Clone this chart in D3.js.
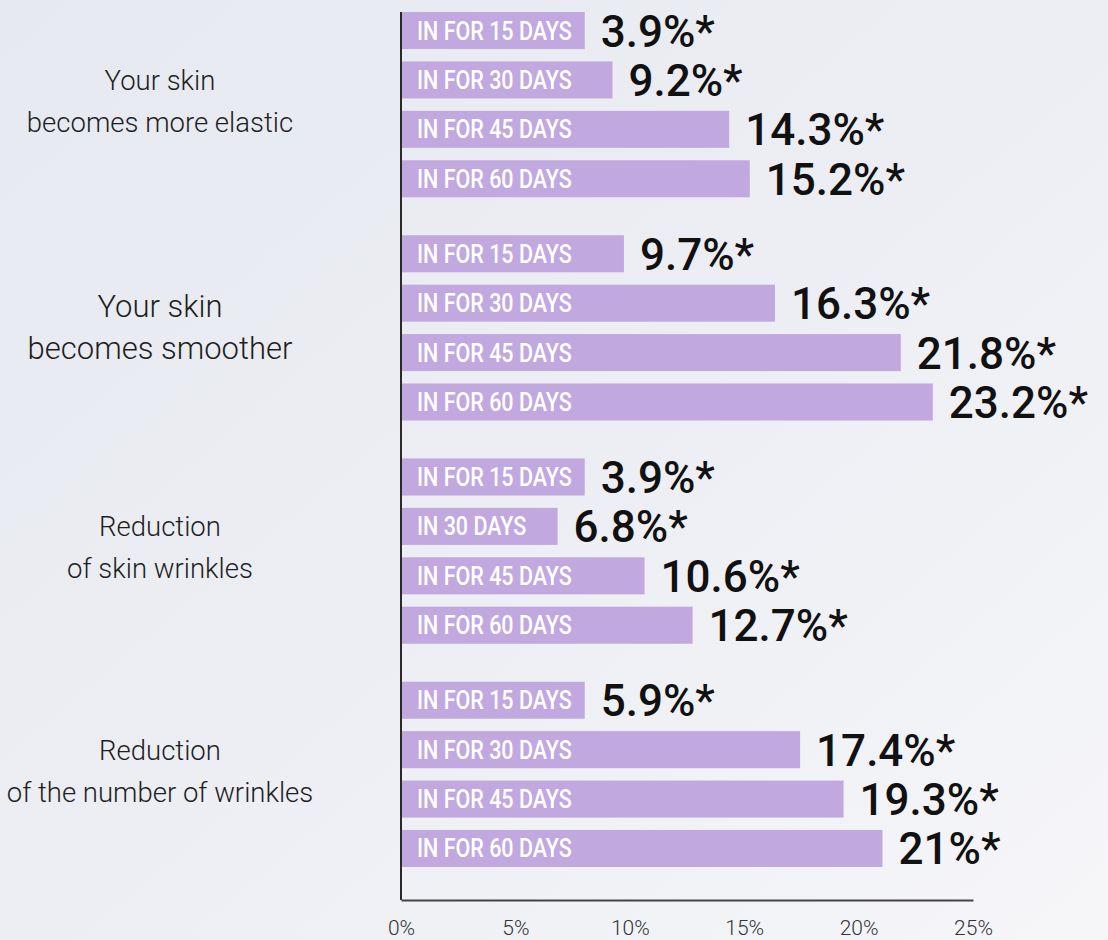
<!DOCTYPE html>
<html>
<head>
<meta charset="utf-8">
<script src="https://cdn.jsdelivr.net/npm/d3@7"></script>
<style>
  html, body { margin: 0; padding: 0; }
  body { width: 1108px; height: 940px; overflow: hidden; }
</style>
</head>
<body>
<svg id="chart" width="1108" height="940"></svg>
<script>
// ---- data ----
const groups = ["elastic", "smoother", "wrinkles", "number"];
const groupLabels = [
  ["Your skin", "becomes more elastic"],
  ["Your skin", "becomes smoother"],
  ["Reduction", "of skin wrinkles"],
  ["Reduction", "of the number of wrinkles"]
];
const barLabelsElastic  = ["IN FOR 15 DAYS", "IN FOR 30 DAYS", "IN FOR 45 DAYS", "IN FOR 60 DAYS"];
const barLabelsSmoother = ["IN FOR 15 DAYS", "IN FOR 30 DAYS", "IN FOR 45 DAYS", "IN FOR 60 DAYS"];
const barLabelsWrinkles = ["IN FOR 15 DAYS", "IN 30 DAYS", "IN FOR 45 DAYS", "IN FOR 60 DAYS"];
const barLabelsNumber   = ["IN FOR 15 DAYS", "IN FOR 30 DAYS", "IN FOR 45 DAYS", "IN FOR 60 DAYS"];
const valuesElastic  = [3.9, 9.2, 14.3, 15.2];
const valuesSmoother = [9.7, 16.3, 21.8, 23.2];
const valuesWrinkles = [3.9, 6.8, 10.6, 12.7];
const valuesNumber   = [5.9, 17.4, 19.3, 21];
const xTicks = [0, 5, 10, 15, 20, 25];

const barLabelSets = [barLabelsElastic, barLabelsSmoother, barLabelsWrinkles, barLabelsNumber];
const valueSets = [valuesElastic, valuesSmoother, valuesWrinkles, valuesNumber];

// ---- drawing ----
const svg = d3.select("#chart");
const W = 1108, H = 940;

const defs = svg.append("defs");
const grad = defs.append("linearGradient").attr("id", "bg")
  .attr("x1", "0").attr("y1", "0").attr("x2", "1").attr("y2", "1");
grad.append("stop").attr("offset", "0").attr("stop-color", "#e6e9f0");
grad.append("stop").attr("offset", "0.5").attr("stop-color", "#eceef3");
grad.append("stop").attr("offset", "1").attr("stop-color", "#f6f6f9");
svg.append("rect").attr("width", W).attr("height", H).attr("fill", "url(#bg)");

const x = d3.scaleLinear().domain([0, 25]).range([401, 973]);
const yGroup = d3.scaleBand().domain(groups).range([12, 867]).paddingInner(0.17).paddingOuter(0);
const yRow = d3.scaleBand().domain([0, 1, 2, 3]).range([0, yGroup.bandwidth()]).paddingInner(0.25).paddingOuter(0);
const axisY = 900;

const barColor = "#c1a9df";
const labelScaleX = 0.86;

groups.forEach((g, gi) => {
  const gy = yGroup(g);
  const gEl = svg.append("g").attr("transform", `translate(0,${gy})`);
  const rows = valueSets[gi].map((v, i) => ({ v, label: barLabelSets[gi][i], i }));

  const row = gEl.selectAll("g.row").data(rows).enter().append("g").attr("class", "row")
    .attr("transform", d => `translate(0,${yRow(d.i)})`);

  const bars = row.append("rect")
    .attr("x", x(0) + 1)
    .attr("y", 0)
    .attr("height", yRow.bandwidth())
    .attr("fill", barColor);

  const labels = row.append("text")
    .attr("transform", `translate(${x(0) + 16},${yRow.bandwidth() / 2 + 9}) scale(${labelScaleX},1)`)
    .attr("fill", "#ffffff")
    .attr("font-family", "Roboto, sans-serif")
    .attr("font-weight", 500)
    .attr("font-size", "25px")
    .text(d => d.label);

  // bar width: value on scale, but at least wide enough to hold its label
  labels.each(function (d) {
    const tw = this.getComputedTextLength() * labelScaleX;
    d.w = Math.max(x(d.v) - x(0), tw + 28);
  });
  bars.attr("width", d => d.w);

  row.append("text")
    .attr("x", d => x(0) + d.w + 17)
    .attr("y", yRow.bandwidth() / 2 + 16)
    .attr("fill", "#111111")
    .attr("font-family", "Roboto, sans-serif")
    .attr("font-weight", 500)
    .attr("font-size", "44px")
    .text(d => d.v + "%*");

  // group labels
  const c = gy + yGroup.bandwidth() / 2;
  const fs = gi === 1 ? 31 : 27.5;
  const capH = fs * 0.711;
  const gl = svg.append("text")
    .attr("text-anchor", "middle")
    .attr("fill", "#1e1e1e")
    .attr("font-family", "Roboto, sans-serif")
    .attr("font-weight", 300)
    .attr("font-size", fs + "px");
  groupLabels[gi].forEach((t, li) => {
    gl.append("tspan")
      .attr("x", 160)
      .attr("y", c + (li - 0.5) * 42 + capH / 2 - 3.5 + (gi === 1 ? 3 : 0))
      .text(t);
  });
});

// vertical axis line
svg.append("line")
  .attr("x1", x(0)).attr("x2", x(0))
  .attr("y1", 12).attr("y2", axisY)
  .attr("stroke", "#2a2a2a").attr("stroke-width", 2);

// bottom axis
const xAxis = d3.axisBottom(x)
  .tickValues(xTicks)
  .tickFormat(d => d + "%")
  .tickSize(0)
  .tickPadding(20);
const ax = svg.append("g").attr("transform", `translate(0,${axisY})`).call(xAxis);
ax.select(".domain").attr("stroke", "#444").attr("stroke-width", 2);
ax.selectAll("text")
  .attr("fill", "#333")
  .attr("font-family", "Roboto, sans-serif")
  .attr("font-weight", 300)
  .attr("font-size", "21px");
</script>
</body>
</html>
